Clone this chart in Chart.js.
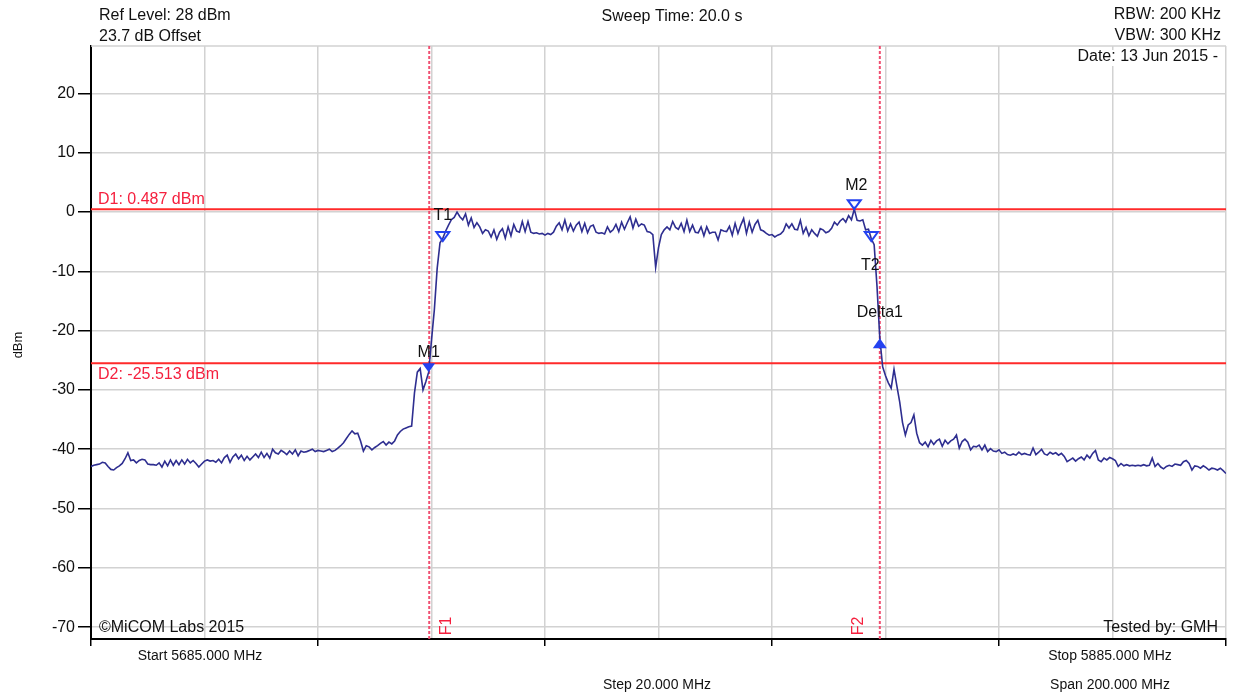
<!DOCTYPE html>
<html><head><meta charset="utf-8">
<script src="https://cdn.jsdelivr.net/npm/chart.js@4"></script>
<style>html,body{margin:0;padding:0;background:#fff;}canvas{display:block;}</style>
</head><body>
<canvas id="c" width="1235" height="697"></canvas>
<script>
// ---------- data ----------
const startFreq = 5685;      // MHz
const stopFreq = 5885;       // MHz
const sweepStep = 0.5;       // MHz per trace point
const refLevel = 28;         // dBm (top of screen)
const bottomLevel = -72;     // dBm (bottom of screen)

const traceLevels = [
 -42.9,-42.7,-42.6,-42.5,-42.2,-42.3,-42.9,-43.4,-43.5,-43.1,-42.8,-42.4,-41.6,-40.6,-41.9,-41.8,-42.3,-41.9,-41.7,-41.8,
 -42.5,-42.6,-42.6,-42.7,-42.3,-43.0,-42.0,-42.8,-41.8,-42.7,-41.9,-42.6,-41.8,-42.5,-41.7,-42.3,-41.9,-42.4,-43.0,-42.5,
 -42.0,-41.8,-42.0,-41.9,-42.2,-41.7,-42.3,-41.4,-41.0,-42.2,-41.3,-40.8,-41.6,-41.0,-41.9,-41.2,-41.8,-41.3,-40.8,-41.4,
 -40.5,-41.4,-40.7,-41.5,-40.0,-40.6,-40.8,-40.2,-40.5,-40.9,-40.3,-40.8,-40.1,-41.1,-40.3,-40.5,-40.4,-40.2,-40.0,-40.4,
 -40.2,-40.3,-40.4,-40.2,-40.0,-40.4,-40.2,-39.8,-39.4,-38.9,-38.2,-37.5,-36.9,-37.4,-37.3,-38.6,-40.3,-39.4,-39.6,-40.1,
 -39.7,-39.4,-39.0,-38.7,-39.3,-38.8,-39.1,-38.6,-37.6,-37.0,-36.6,-36.4,-36.2,-36.1,-30.5,-27.0,-26.4,-30.0,-28.6,-27.0,
 -21.6,-16.5,-9.5,-5.2,-4.4,-3.2,-2.2,-1.3,-0.9,0.0,-0.8,-1.3,-0.3,-2.2,-1.0,-2.6,-1.8,-2.5,-3.6,-3.0,
 -3.2,-4.2,-3.0,-4.6,-3.4,-2.8,-4.4,-2.5,-4.0,-2.1,-3.2,-3.4,-1.6,-3.3,-1.6,-3.4,-3.6,-3.5,-3.7,-3.6,
 -3.9,-3.6,-3.8,-3.4,-2.4,-1.8,-3.0,-1.35,-3.2,-2.0,-3.2,-2.2,-1.7,-3.3,-1.9,-3.5,-2.4,-2.2,-3.4,-3.6,
 -3.5,-3.7,-2.5,-3.4,-3.0,-2.1,-3.3,-1.7,-2.9,-1.8,-0.8,-2.7,-1.2,-2.4,-2.0,-2.2,-3.3,-3.4,-3.8,-9.3,
 -6.0,-3.8,-3.0,-2.5,-3.0,-1.6,-2.6,-2.9,-1.9,-3.3,-1.35,-3.3,-2.2,-3.4,-3.5,-2.5,-4.0,-2.5,-3.6,-3.4,
 -3.4,-4.7,-3.0,-3.2,-3.3,-2.4,-3.9,-1.9,-3.6,-2.2,-1.1,-3.6,-1.7,-3.4,-2.1,-1.4,-3.0,-3.2,-3.6,-3.9,
 -3.8,-4.2,-3.9,-3.7,-3.2,-2.0,-2.7,-2.0,-2.9,-3.0,-1.4,-3.6,-2.6,-4.0,-3.0,-3.6,-4.1,-2.8,-3.0,-3.5,
 -3.3,-2.75,-1.7,-2.2,-1.5,-1.1,-1.7,-0.6,-1.3,0.487,-1.4,-1.5,-1.3,-3.0,-2.9,-4.5,-5.5,-12.5,-21.3,-26.1,
 -27.6,-28.8,-29.7,-26.5,-29.3,-32.0,-35.5,-37.6,-35.9,-35.5,-34.2,-37.3,-38.9,-39.3,-38.8,-39.6,-38.5,-39.2,-38.6,-38.3,
 -39.5,-38.5,-39.1,-38.6,-38.3,-37.6,-39.8,-38.7,-38.3,-38.8,-40.1,-39.5,-39.6,-39.3,-40.1,-39.3,-40.4,-39.9,-40.3,-40.4,
 -40.1,-40.7,-40.5,-40.9,-41.0,-40.8,-41.0,-40.5,-40.9,-40.7,-40.9,-41.0,-39.8,-40.9,-40.5,-40.0,-40.8,-41.0,-40.5,-40.8,
 -40.6,-41.0,-40.7,-41.2,-42.1,-41.8,-41.5,-42.0,-41.6,-41.3,-41.8,-41.0,-41.5,-40.7,-40.2,-41.8,-42.1,-41.5,-41.8,-41.4,
 -41.6,-41.9,-42.9,-42.4,-42.8,-42.6,-42.8,-42.7,-42.8,-42.7,-42.8,-42.6,-42.8,-42.7,-41.5,-42.9,-42.4,-43.0,-43.3,-42.9,
 -42.7,-42.9,-42.5,-42.6,-42.7,-42.1,-41.9,-42.4,-43.5,-42.8,-42.9,-43.2,-42.8,-43.1,-43.5,-43.2,-43.3,-43.5,-43.2,-43.6,
 -44.1
];

const yTickValues = [-70, -60, -50, -40, -30, -20, -10, 0, 10, 20];
const xGridValues = [5685, 5705, 5725, 5745, 5765, 5785, 5805, 5825, 5845, 5865, 5885];
const xTickMarkValues = [5685, 5725, 5765, 5805, 5845, 5885];

const limitNames = ['D1', 'D2'];
const limitLevels = [0.487, -25.513];

const freqLineNames = ['F1', 'F2'];
const freqLineValues = [5744.6, 5824.0];

const markerNames = ['M1', 'T1', 'M2', 'T2', 'Delta1'];
const markerFreqs = [5744.5, 5747.0, 5819.5, 5822.5, 5824.0];
const markerLevels = [-27.0, -4.9, 0.487, -4.9, -21.3];
const markerKinds = ['filledDown', 'openDown', 'openDown', 'openDown', 'filledUp'];

const headerLeft = ['Ref Level: 28 dBm', '23.7 dB Offset'];
const headerCenter = 'Sweep Time: 20.0 s';
const headerRight = ['RBW: 200 KHz', 'VBW: 300 KHz', 'Date: 13 Jun 2015 -'];
const footerLeft = '\u00A9MiCOM Labs 2015';
const footerRight = 'Tested by: GMH';
const axisTexts = ['Start 5685.000 MHz', 'Step 20.000 MHz', 'Stop 5885.000 MHz', 'Span 200.000 MHz'];
const yTitle = 'dBm';

// ---------- style ----------
const FONT = '"Liberation Sans", Arial, sans-serif';
const GRID = '#d2d2d2';
const TRACE = '#2e2e90';
const RED = '#ff2a2a';
const RED_TEXT = '#f5203e';
const FLINE = 'rgba(240,70,105,0.95)';
const BLUE = '#2442f0';
const markerLabelOffset = {M1:[0,-20], T1:[0,-26], M2:[2,-24], T2:[-1,24], Delta1:[0,-26]};

// ---------- datasets ----------
const tracePoints = traceLevels.map((v, i) => ({x: startFreq + i * sweepStep, y: v}));
const datasets = [
  {data: tracePoints, borderColor: TRACE, borderWidth: 1.6, pointRadius: 0, tension: 0}
];
limitLevels.forEach((lv) => datasets.push({
  data: [{x: startFreq, y: lv}, {x: stopFreq, y: lv}], borderColor: RED, borderWidth: 2, pointRadius: 0
}));
freqLineValues.forEach((f) => datasets.push({
  data: [{x: f, y: bottomLevel}, {x: f, y: refLevel}], borderColor: FLINE, borderWidth: 2,
  borderDash: [3, 2], pointRadius: 0
}));

function text(ctx, s, x, y, align, color, size, rot) {
  ctx.save();
  ctx.font = size + 'px ' + FONT;
  ctx.fillStyle = color;
  ctx.textAlign = align;
  ctx.textBaseline = 'middle';
  ctx.translate(x, y);
  if (rot) ctx.rotate(rot);
  ctx.fillText(s, 0, 0);
  ctx.restore();
}

const overlay = {
  id: 'overlay',
  beforeDatasetsDraw(chart) {
    const {ctx, chartArea: a, scales: {y}} = chart;
    const yTop = y.getPixelForValue(refLevel);
    ctx.save();
    ctx.strokeStyle = GRID; ctx.lineWidth = 1.5;
    ctx.beginPath(); ctx.moveTo(a.left, yTop); ctx.lineTo(a.right, yTop); ctx.stroke();
    ctx.restore();
  },
  afterDatasetsDraw(chart) {
    const {ctx, scales: {x, y}} = chart;
    markerNames.forEach((n, k) => {
      const px = x.getPixelForValue(markerFreqs[k]);
      const py = y.getPixelForValue(markerLevels[k]);
      const kind = markerKinds[k];
      ctx.save();
      ctx.beginPath();
      if (kind.endsWith('Up')) {
        ctx.moveTo(px, py); ctx.lineTo(px - 7, py + 10); ctx.lineTo(px + 7, py + 10);
      } else {
        ctx.moveTo(px, py); ctx.lineTo(px - 6.5, py - 9); ctx.lineTo(px + 6.5, py - 9);
      }
      ctx.closePath();
      if (kind.startsWith('filled')) { ctx.fillStyle = BLUE; ctx.fill(); }
      else { ctx.strokeStyle = BLUE; ctx.lineWidth = 2; ctx.stroke(); }
      ctx.restore();
      const off = markerLabelOffset[n];
      text(ctx, n, px + off[0], py + off[1], 'center', '#111', 16);
    });
  },
  afterDraw(chart) {
    const {ctx, chartArea: a, scales: {x, y}} = chart;
    // header
    text(ctx, headerLeft[0], 99, 16, 'left', '#111', 16);
    text(ctx, headerLeft[1], 99, 37, 'left', '#111', 16);
    text(ctx, headerCenter, 672, 17, 'center', '#111', 16);
    text(ctx, headerRight[0], 1221, 15, 'right', '#111', 16);
    text(ctx, headerRight[1], 1221, 36, 'right', '#111', 16);
    ctx.save();
    ctx.font = '16px ' + FONT;
    const dw = ctx.measureText(headerRight[2]).width;
    ctx.fillStyle = '#fff';
    ctx.fillRect(1218 - dw - 2, 50, dw + 4, 16);
    ctx.restore();
    text(ctx, headerRight[2], 1218, 57, 'right', '#111', 16);
    // limit line labels
    limitNames.forEach((n, k) => {
      const py = y.getPixelForValue(limitLevels[k]);
      const val = limitLevels[k].toFixed(3);
      text(ctx, n + ': ' + val + ' dBm', 98, k === 0 ? py - 10 : py + 11, 'left', RED_TEXT, 16);
    });
    // frequency line labels
    freqLineNames.forEach((n, k) => {
      const px = x.getPixelForValue(freqLineValues[k]);
      text(ctx, n, k === 0 ? px + 17 : px - 21, a.bottom - 13, 'center', RED_TEXT, 16, -Math.PI / 2);
    });
    // footer in plot
    text(ctx, footerLeft, 99, 628, 'left', '#111', 16);
    text(ctx, footerRight, 1218, 628, 'right', '#111', 16);
    // axis texts
    text(ctx, axisTexts[0], 200, 656, 'center', '#111', 14);
    text(ctx, axisTexts[1], 657, 685, 'center', '#111', 14);
    text(ctx, axisTexts[2], 1110, 656, 'center', '#111', 14);
    text(ctx, axisTexts[3], 1110, 685, 'center', '#111', 14);
    // y title
    text(ctx, yTitle, 18, 345, 'center', '#111', 13, -Math.PI / 2);
  }
};

new Chart(document.getElementById('c'), {
  type: 'line',
  data: {datasets},
  plugins: [overlay],
  options: {
    responsive: false,
    devicePixelRatio: 1,
    animation: false,
    layout: {padding: {top: 46, right: 9, left: 0, bottom: 0}},
    plugins: {legend: {display: false}, tooltip: {enabled: false}},
    scales: {
      x: {
        type: 'linear', min: startFreq, max: stopFreq,
        afterBuildTicks: (s) => { s.ticks = xGridValues.map((v) => ({value: v})); },
        afterFit: (s) => { s.height = 58; },
        ticks: {display: false},
        grid: {
          color: GRID, lineWidth: 1.5, tickLength: 7, tickWidth: 1.5,
          tickColor: (c) => (c.tick && xTickMarkValues.includes(c.tick.value)) ? '#000' : 'rgba(0,0,0,0)'
        },
        border: {color: '#000', width: 2}
      },
      y: {
        min: bottomLevel, max: refLevel,
        afterBuildTicks: (s) => { s.ticks = yTickValues.map((v) => ({value: v})); },
        afterFit: (s) => { s.width = 91; },
        ticks: {color: '#111', font: {family: FONT, size: 16}, padding: 3},
        grid: {color: GRID, lineWidth: 1.5, tickLength: 13, tickWidth: 1.5, tickColor: '#000'},
        border: {color: '#000', width: 2}
      }
    }
  }
});
</script>
</body></html>
